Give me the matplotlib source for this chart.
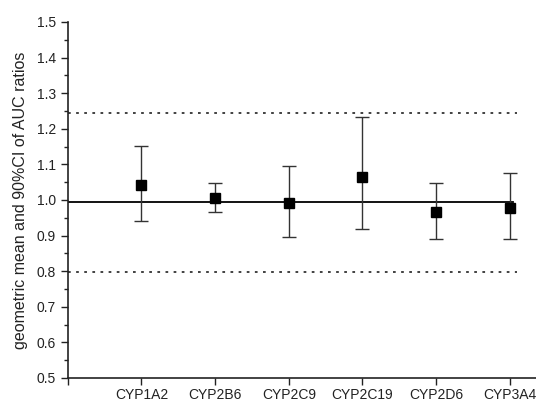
"""Geometric mean AUC ratios with 90% CI per CYP enzyme."""

import numpy as np
import matplotlib.pyplot as plt

plt.rcParams['font.family'] = ['Liberation Sans', 'DejaVu Sans']

enzymes = ["CYP1A2", "CYP2B6", "CYP2C9", "CYP2C19", "CYP2D6", "CYP3A4"]
gmr = [1.042, 1.006, 0.991, 1.065, 0.966, 0.977]
ci_low = [0.942, 0.965, 0.897, 0.918, 0.890, 0.890]
ci_high = [1.153, 1.049, 1.095, 1.234, 1.049, 1.075]

reference_line = 0.995
bounds = [0.797, 1.245]

fig = plt.figure(figsize=(5.36, 4.01), dpi=100)
ax = fig.add_axes([0.1263, 0.0574, 0.8737, 0.8878])

x = np.arange(1, len(enzymes) + 1)
yerr = [np.array(gmr) - np.array(ci_low), np.array(ci_high) - np.array(gmr)]
ax.errorbar(x, gmr, yerr=yerr, fmt='none', ecolor='#333333',
            elinewidth=1.0, capsize=5, capthick=1.0, zorder=3)
ax.plot(x, gmr, 's', color='black', markersize=7.5, zorder=4)

ax.plot([0, 6.04], [reference_line, reference_line], color='black', lw=1.3,
        zorder=2)
for b in bounds:
    ax.plot([0, 6.1], [b, b], color='#333333', lw=1.3,
            linestyle=(0, (1.5, 3)), zorder=2)

ax.set_xlim(0, 6.355)
ax.set_ylim(0.5, 1.5)

ax.set_xticks(np.concatenate([[0], x]))
ax.set_xticklabels([""] + enzymes, fontsize=10)
ax.set_yticks(np.arange(0.5, 1.51, 0.1))
ax.set_yticks(np.arange(0.55, 1.5, 0.1), minor=True)
ax.set_yticklabels([f"{v:.1f}" for v in np.arange(0.5, 1.51, 0.1)],
                   fontsize=10)
ax.tick_params(axis='both', which='major', direction='out', length=5,
               width=1, color='#222222', labelcolor='#222222')
ax.tick_params(axis='y', which='minor', direction='out', length=3, width=1,
               color='#222222')
ax.tick_params(axis='x', pad=2.5)

ax.spines['top'].set_visible(False)
ax.spines['right'].set_visible(False)
for side in ('left', 'bottom'):
    ax.spines[side].set_linewidth(1.2)
    ax.spines[side].set_color('#222222')

ax.set_ylabel("geometric mean and 90%CI of AUC ratios", fontsize=11.5,
              color='#222222', labelpad=6)

fig.savefig("out.png", dpi=100)
